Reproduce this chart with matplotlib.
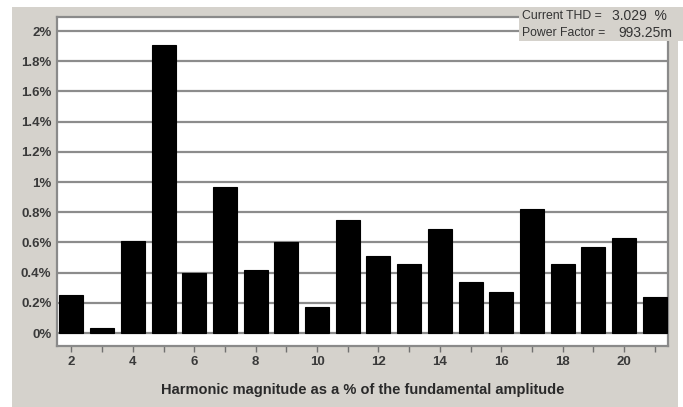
import matplotlib
matplotlib.use("Agg")
import matplotlib.pyplot as plt
from matplotlib.patches import Rectangle

harmonics = list(range(2, 22))
magnitude_pct = [0.25, 0.035, 0.61, 1.91, 0.40, 0.97, 0.42, 0.60, 0.17, 0.75,
                 0.51, 0.46, 0.69, 0.34, 0.27, 0.82, 0.46, 0.57, 0.63, 0.24]
ytick_vals = [0, 0.2, 0.4, 0.6, 0.8, 1.0, 1.2, 1.4, 1.6, 1.8, 2.0]
ytick_labels = ["0%", "0.2%", "0.4%", "0.6%", "0.8%", "1%", "1.2%", "1.4%", "1.6%", "1.8%", "2%"]
xtick_label_vals = [2, 4, 6, 8, 10, 12, 14, 16, 18, 20]
thd_text = ("Current THD =", "3.029  %")
pf_text = ("Power Factor =", "993.25m")
xlabel = "Harmonic magnitude as a % of the fundamental amplitude"

plt.rcParams['font.family'] = ['Liberation Sans', 'DejaVu Sans']

W, H = 683, 407
fig = plt.figure(figsize=(W / 100, H / 100), dpi=100)
fig.patch.set_facecolor("white")
panel_color = "#d5d2cc"
fig.patches.append(Rectangle((12 / W, 0), (678 - 12) / W, 1 - 7 / H,
                             transform=fig.transFigure, facecolor=panel_color,
                             edgecolor="none", zorder=-5))

ax = fig.add_axes([57 / W, 1 - 346 / H, (668 - 57) / W, (346 - 17) / H])
ax.set_zorder(2)
ax.set_facecolor("white")
ax.bar(harmonics, magnitude_pct, width=0.78, color="black", edgecolor="black",
       linewidth=0.8, zorder=3)
ax.set_xlim(1.53, 21.43)
ax.set_ylim(-0.086, 2.093)

ax.set_yticks(ytick_vals)
ax.set_yticklabels(ytick_labels)
ax.set_xticks(harmonics)
ax.set_xticklabels([str(h) if h in xtick_label_vals else "" for h in harmonics])
ax.yaxis.grid(True, color="#8c8c8c", linewidth=1.6, zorder=1)
ax.set_axisbelow(True)
ax.tick_params(axis="y", length=0, pad=4, labelsize=9.5, labelcolor="#3a3a3a")
ax.tick_params(axis="x", length=4, width=1, color="#707070", pad=3,
               labelsize=9.5, labelcolor="#3a3a3a")
for lbl in ax.get_xticklabels() + ax.get_yticklabels():
    lbl.set_fontweight("bold")
for side, sp in ax.spines.items():
    sp.set_color("#8a8a8a")
    sp.set_linewidth(1.6)

ax.set_xlabel(xlabel, fontsize=10.5, fontweight="bold", color="#2a2a2a", labelpad=11)

# info box top right
fig.patches.append(Rectangle((519 / W, 1 - 41 / H), (W - 519) / W, (41 - 7) / H,
                             transform=fig.transFigure, facecolor=panel_color,
                             edgecolor="none", zorder=5))
fs = 8.8
fs_val = 10
fig.text(522 / W, 1 - 16 / H, thd_text[0], fontsize=fs, color="#333333",
         va="center", ha="left", zorder=6)
fig.text(612 / W, 1 - 16 / H, thd_text[1], fontsize=fs_val, color="#333333",
         va="center", ha="left", zorder=6)
fig.text(522 / W, 1 - 33 / H, pf_text[0], fontsize=fs, color="#333333",
         va="center", ha="left", zorder=6)
fig.text(618 / W, 1 - 33 / H, pf_text[1], fontsize=fs_val, color="#333333",
         va="center", ha="left", zorder=6)

fig.savefig("out.png", dpi=100, facecolor=fig.get_facecolor())
